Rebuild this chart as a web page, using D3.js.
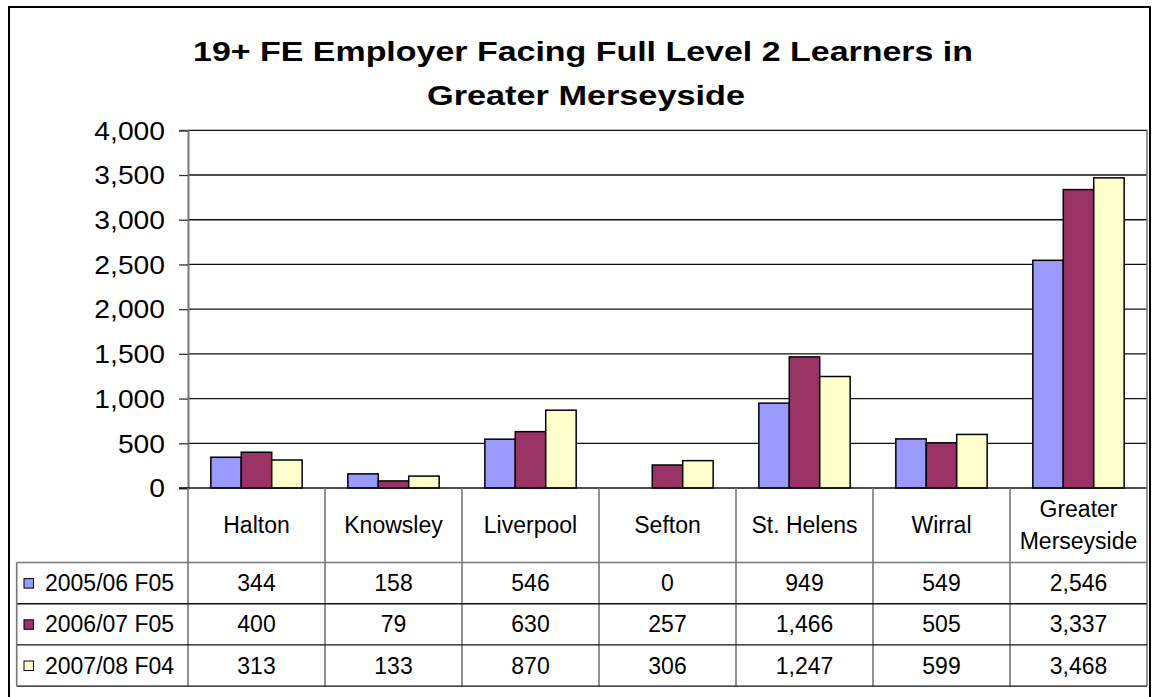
<!DOCTYPE html>
<html>
<head>
<meta charset="utf-8">
<script src="https://cdn.jsdelivr.net/npm/d3@7"></script>
<style>
  body { margin: 0; background: #fff; }
  svg { display: block; font-family: "Liberation Sans", Arial, sans-serif; }
</style>
</head>
<body>
<svg id="chart" width="1152" height="697"></svg>
<script>
const categories = ["Halton", "Knowsley", "Liverpool", "Sefton", "St. Helens", "Wirral", "Greater Merseyside"];
const seriesNames = ["2005/06 F05", "2006/07 F05", "2007/08 F04"];
const values0506 = [344, 158, 546, 0, 949, 549, 2546];
const values0607 = [400, 79, 630, 257, 1466, 505, 3337];
const values0708 = [313, 133, 870, 306, 1247, 599, 3468];
const yTicks = [0, 500, 1000, 1500, 2000, 2500, 3000, 3500, 4000];
const colors = ["#9999ff", "#993366", "#ffffcc"];

const seriesValues = [values0506, values0607, values0708];

const plot = { left: 188, right: 1147, top: 130.3, bottom: 488 };
const table = { left: 16.7, headerBottom: 562.5, rowH: 41.2 };

const svg = d3.select("#chart");

// outer chart border
svg.append("rect")
  .attr("x", 9).attr("y", 7)
  .attr("width", 1141).attr("height", 702)
  .attr("fill", "#fff")
  .attr("stroke", "#000")
  .attr("stroke-width", 2);

// title (glyphs are a bit stretched in the original)
svg.append("text")
  .attr("x", 583).attr("y", 61)
  .attr("text-anchor", "middle")
  .attr("font-size", 28).attr("font-weight", "bold")
  .attr("textLength", 780).attr("lengthAdjust", "spacingAndGlyphs")
  .text("19+ FE Employer Facing Full Level 2 Learners in");
svg.append("text")
  .attr("x", 586).attr("y", 105)
  .attr("text-anchor", "middle")
  .attr("font-size", 28).attr("font-weight", "bold")
  .attr("textLength", 318).attr("lengthAdjust", "spacingAndGlyphs")
  .text("Greater Merseyside");

const x0 = d3.scaleBand().domain(categories).range([plot.left, plot.right]);
const x1 = d3.scaleBand().domain(seriesNames).range([0, x0.bandwidth()]).paddingOuter(0.75);
const y = d3.scaleLinear().domain([0, 4000]).range([plot.bottom, plot.top]);

// gridlines
svg.append("g")
  .selectAll("line")
  .data(yTicks.filter(d => d > 0))
  .join("line")
  .attr("x1", plot.left).attr("x2", plot.right)
  .attr("y1", d => y(d)).attr("y2", d => y(d))
  .attr("stroke", "#111").attr("stroke-width", 1.3);

// y axis
const yAxis = svg.append("g")
  .attr("transform", `translate(${plot.left},0)`)
  .call(d3.axisLeft(y).tickValues(yTicks).tickSize(9).tickFormat(d3.format(",")));
yAxis.select(".domain").attr("stroke", "#777").attr("stroke-width", 2);
yAxis.selectAll(".tick line").attr("stroke", "#333").attr("stroke-width", 1.3);
yAxis.selectAll("text")
  .attr("font-size", 25).attr("fill", "#000")
  .attr("font-family", "'Liberation Sans', Arial, sans-serif")
  .attr("dy", "0.35em")
  .attr("x", -23 / 1.13)
  .attr("transform", "scale(1.13,1)");

// bars
const groups = svg.append("g")
  .selectAll("g")
  .data(categories)
  .join("g")
  .attr("transform", d => `translate(${x0(d)},0)`);

groups.selectAll("rect")
  .data((c, i) => seriesNames.map((s, j) => ({ s, j, v: seriesValues[j][i] })))
  .join("rect")
  .filter(d => d.v > 0)
  .attr("x", d => x1(d.s))
  .attr("width", x1.bandwidth())
  .attr("y", d => y(d.v))
  .attr("height", d => y(0) - y(d.v))
  .attr("fill", d => colors[d.j])
  .attr("stroke", "#000")
  .attr("stroke-width", 1.5);

// x baseline
svg.append("line")
  .attr("x1", plot.left - 9).attr("x2", plot.right)
  .attr("y1", plot.bottom).attr("y2", plot.bottom)
  .attr("stroke", "#111").attr("stroke-width", 1.3);

// data table
const tableBottom = table.headerBottom + 3 * table.rowH;
const tbl = svg.append("g");

// category separators
tbl.selectAll("line.sep")
  .data(categories.concat(["end"]))
  .join("line")
  .attr("class", "sep")
  .attr("x1", (d, i) => i < categories.length ? x0(d) : plot.right)
  .attr("x2", (d, i) => i < categories.length ? x0(d) : plot.right)
  .attr("y1", (d, i) => i === categories.length ? plot.top : plot.bottom)
  .attr("y2", tableBottom)
  .attr("stroke", "#777").attr("stroke-width", 1.6);

// horizontal row lines
tbl.selectAll("line.row")
  .data([0, 1, 2, 3])
  .join("line")
  .attr("class", "row")
  .attr("x1", table.left).attr("x2", plot.right)
  .attr("y1", d => table.headerBottom + d * table.rowH)
  .attr("y2", d => table.headerBottom + d * table.rowH)
  .attr("stroke", d => d === 0 ? "#777" : "#111")
  .attr("stroke-width", 1.4);

tbl.append("line")
  .attr("x1", table.left).attr("x2", table.left)
  .attr("y1", table.headerBottom).attr("y2", tableBottom)
  .attr("stroke", "#777").attr("stroke-width", 1.6);

// category header labels
const headerMid = (plot.bottom + table.headerBottom) / 2;
categories.forEach(c => {
  const cx = x0(c) + x0.bandwidth() / 2;
  if (c === "Greater Merseyside") {
    tbl.append("text").attr("x", cx).attr("y", headerMid - 16).attr("dy", "0.35em")
      .attr("text-anchor", "middle").attr("font-size", 23).text("Greater");
    tbl.append("text").attr("x", cx).attr("y", headerMid + 16).attr("dy", "0.35em")
      .attr("text-anchor", "middle").attr("font-size", 23).text("Merseyside");
  } else {
    tbl.append("text").attr("x", cx).attr("y", headerMid).attr("dy", "0.35em")
      .attr("text-anchor", "middle").attr("font-size", 23).text(c);
  }
});

// rows
const fmt = d3.format(",");
seriesNames.forEach((s, j) => {
  const cy = table.headerBottom + (j + 0.5) * table.rowH;
  tbl.append("rect")
    .attr("x", 24).attr("y", cy - 4.5)
    .attr("width", 9.5).attr("height", 9.5)
    .attr("fill", colors[j]).attr("stroke", "#000").attr("stroke-width", 1);
  tbl.append("text").attr("x", 45).attr("y", cy).attr("dy", "0.35em")
    .attr("font-size", 23).text(s);
  categories.forEach((c, i) => {
    tbl.append("text")
      .attr("x", x0(c) + x0.bandwidth() / 2).attr("y", cy).attr("dy", "0.35em")
      .attr("text-anchor", "middle").attr("font-size", 23)
      .text(fmt(seriesValues[j][i]));
  });
});
</script>
</body>
</html>
